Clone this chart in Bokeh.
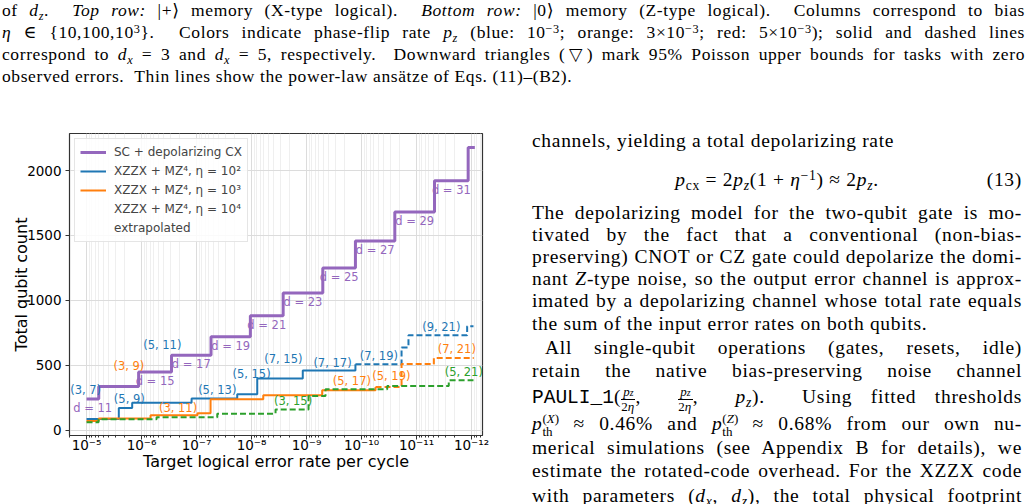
from bokeh.plotting import figure
from bokeh.models import (Range1d, FixedTicker, CustomJSTickFormatter, Legend, LegendItem, Div)
from bokeh.layouts import column, row
from bokeh.embed import file_html
from bokeh.resources import INLINE
from bokeh.core.properties import value

# ---------------- data ----------------
# Surface code + depolarizing CX: step starts (target logical error rate) and qubit counts
sc_rate = [1e-5, 6.0e-6, 1.13e-6, 2.85e-7, 5.45e-8, 1.05e-8, 2.66e-9, 5.06e-10,
           1.29e-10, 2.48e-11, 4.71e-12, 1.15e-12, 8.7e-13]
sc_qubits = [241, 337, 449, 577, 721, 881, 1057, 1249, 1457, 1681, 1921, 2177, 2177]
sc_dist = [11, 13, 15, 17, 19, 21, 23, 25, 27, 29, 31, 33]
sc_labeled = [11, 15, 17, 19, 21, 23, 25, 27, 29, 31]

# XZZX + MZ^4, eta = 1e2
b_rate = [1e-5, 2.59e-6, 1.48e-6, 1.23e-7, 1.82e-8, 7.87e-9, 1.17e-9, 1.29e-10]
b_qubits = [87, 172, 213, 244, 277, 398, 461, 508]
b_ext_rate = [1.29e-10, 1.87e-11, 1.40e-11, 1.20e-12, 9.2e-13]
b_ext_qubits = [508, 638, 731, 802, 802]

# XZZX + MZ^4, eta = 1e3
o_rate = [1e-5, 6.0e-6, 6.86e-7, 9.6e-8, 5.56e-8, 6.12e-9, 5.19e-10, 5.56e-11]
o_qubits = [72, 90, 115, 131, 239, 270, 308, 334]
o_ext_rate = [5.56e-11, 1.87e-11, 4.84e-12, 9.1e-13]
o_ext_qubits = [334, 510, 556, 556]

# XZZX + MZ^4, eta = 1e4 (extrapolated)
g_ext_rate = [1e-5, 6.05e-6, 5.33e-7, 4.2e-8, 3.66e-9, 9.2e-10, 4.52e-10, 3.41e-11, 2.59e-12, 9.2e-13]
g_ext_qubits = [62, 85, 100, 128, 161, 265, 316, 342, 385, 385]

# (dx, dz) annotations
b_lab = ["(3, 7)", "(5, 9)", "(5, 11)", "(5, 13)", "(5, 15)", "(7, 15)", "(7, 17)", "(7, 19)", "(9, 21)"]
b_lab_x = [1.04e-5, 1.67e-6, 4.2e-7, 4.2e-8, 1.0e-8, 2.64e-9, 3.37e-10, 4.84e-11, 3.54e-12]
b_lab_y = [311, 239, 655, 311, 432, 552, 519, 573, 796]
o_lab = ["(3, 9)", "(3, 11)", "(5, 17)", "(5, 19)", "(7, 21)"]
o_lab_x = [1.70e-6, 2.17e-7, 1.5e-10, 2.87e-11, 1.85e-12]
o_lab_y = [496, 174, 380, 419, 625]
g_lab = ["(3, 15)", "(5, 21)"]
g_lab_x = [1.76e-9, 1.38e-12]
g_lab_y = [226, 450]

x_tick_values = [1e-5, 1e-6, 1e-7, 1e-8, 1e-9, 1e-10, 1e-11, 1e-12]
x_tick_labels = ["10\u207b\u2075", "10\u207b\u2076", "10\u207b\u2077", "10\u207b\u2078",
                 "10\u207b\u2079", "10\u207b\u00b9\u2070", "10\u207b\u00b9\u00b9", "10\u207b\u00b9\u00b2"]
y_tick_values = [0, 500, 1000, 1500, 2000]

PURPLE, BLUE, ORANGE, GREEN = "#9467bd", "#1f77b4", "#ff7f0e", "#2ca02c"
FONT = "DejaVu Sans"

# ---------------- chart ----------------
p = figure(width=520, height=394, x_axis_type="log",
           x_range=Range1d(10 ** -4.69, 10 ** -12.2), y_range=Range1d(-40, 2285),
           output_backend="svg", toolbar_location=None,
           min_border_left=69, min_border_right=38, min_border_top=23, min_border_bottom=69)
p.background_fill_color = "white"
p.border_fill_color = "white"
p.outline_line_color = "#333333"
p.outline_line_width = 1.2

minor = [m * 10.0 ** e for e in range(-13, -4) for m in range(2, 10)]
p.xaxis.ticker = FixedTicker(ticks=x_tick_values, minor_ticks=minor)
p.xaxis.formatter = CustomJSTickFormatter(args=dict(vals=x_tick_values, labs=x_tick_labels), code="""
    let best = 0, bd = 1e9;
    for (let i = 0; i < vals.length; i++) {
        const d = Math.abs(Math.log10(tick) - Math.log10(vals[i]));
        if (d < bd) { bd = d; best = i; }
    }
    return labs[best];
""")
p.yaxis.ticker = FixedTicker(ticks=y_tick_values)
for ax in (p.xaxis[0], p.yaxis[0]):
    ax.axis_line_color = "#333333"
    ax.major_tick_line_color = "#333333"
    ax.minor_tick_line_color = "#333333"
    ax.major_tick_in = 0
    ax.major_tick_out = 4
    ax.minor_tick_in = 0
    ax.minor_tick_out = 2
    ax.major_label_text_font = FONT
    ax.major_label_text_font_size = "13.5px"
    ax.major_label_text_color = "black"
    ax.axis_label_text_font = FONT
    ax.axis_label_text_font_size = "16px"
    ax.axis_label_text_font_style = "normal"
    ax.axis_label_text_color = "black"
p.yaxis.minor_tick_line_color = None
p.xaxis.axis_label = "Target logical error rate per cycle"
p.yaxis.axis_label = "Total qubit count"
p.xaxis.axis_label_standoff = -4
p.yaxis.axis_label_standoff = -7
p.xaxis.major_label_standoff = -3
p.yaxis.major_label_standoff = 4

p.xgrid.grid_line_color = "#dcdcdc"
p.xgrid.minor_grid_line_color = "#efefef"
p.ygrid.grid_line_color = "#dcdcdc"

r_sc = p.step(sc_rate, sc_qubits, mode="after", line_color=PURPLE, line_width=3)
r_b = p.step(b_rate, b_qubits, mode="after", line_color=BLUE, line_width=2)
p.step(b_ext_rate, b_ext_qubits, mode="after", line_color=BLUE, line_width=2, line_dash="6 3")
r_o = p.step(o_rate, o_qubits, mode="after", line_color=ORANGE, line_width=2)
p.step(o_ext_rate, o_ext_qubits, mode="after", line_color=ORANGE, line_width=2, line_dash="6 3")
p.step(g_ext_rate, g_ext_qubits, mode="after", line_color=GREEN, line_width=2, line_dash="6 3")
r_g = p.line([], [], line_color=GREEN, line_width=2.5)
r_ext = p.line([], [], line_color="gray", line_width=2, line_dash="4 2")

# surface-code distance labels, centred under each labelled step
lx, ly, lt = [], [], []
for i, d in enumerate(sc_dist):
    if d in sc_labeled:
        lx.append((sc_rate[i] * sc_rate[i + 1]) ** 0.5)
        ly.append(sc_qubits[i])
        lt.append(f"d = {d}")
p.text(lx, ly, text=lt, text_color=PURPLE, text_font=value(FONT), text_font_size="11.5px",
       text_align="center", text_baseline="middle", y_offset=9)

for labs, xs, ys, col in ((b_lab, b_lab_x, b_lab_y, BLUE), (o_lab, o_lab_x, o_lab_y, ORANGE),
                          (g_lab, g_lab_x, g_lab_y, GREEN)):
    p.text(xs, ys, text=labs, text_color=col, text_font=value(FONT), text_font_size="11.5px",
           text_align="center", text_baseline="middle")

legend = Legend(items=[
    LegendItem(label="SC + depolarizing CX", renderers=[r_sc]),
    LegendItem(label="XZZX + MZ\u2074, \u03b7 = 10\u00b2", renderers=[r_b]),
    LegendItem(label="XZZX + MZ\u2074, \u03b7 = 10\u00b3", renderers=[r_o]),
    LegendItem(label="XZZX + MZ\u2074, \u03b7 = 10\u2074", renderers=[r_g]),
    LegendItem(label="extrapolated", renderers=[r_ext]),
], location="top_left")
legend.label_text_font = FONT
legend.label_text_font_size = "12px"
legend.label_height = 16
legend.glyph_height = 16
legend.glyph_width = 26
legend.label_standoff = 8
legend.spacing = 3
legend.padding = 5
legend.margin = 5
legend.border_line_color = "#cccccc"
legend.background_fill_alpha = 0.85
p.add_layout(legend)

# ---------------- text ----------------
SERIF = "'Liberation Serif','DejaVu Serif',serif"


def I(s):
    return f"<i>{s}</i>"


def sub(s):
    return f'<span style="font-size:70%;position:relative;top:0.3em;line-height:0">{s}</span>'


def sup(s):
    return f'<span style="font-size:70%;position:relative;top:-0.45em;line-height:0">{s}</span>'


def just(s, top, left=0, width=1023, last=True, indent=0):
    al = "justify" if last else "left"
    return (f'<div style="position:absolute;top:{top}px;left:{left}px;width:{width}px;height:22px;'
            f'white-space:nowrap;text-indent:{indent}px;text-align:justify;text-align-last:{al}">{s}</div>')


cap_lines = [
    f"of {I('d')}{sub(I('z'))}. &nbsp;{I('Top row:')} |+\u27e9 memory (X-type logical). &nbsp;{I('Bottom row:')} |0\u27e9 memory (Z-type logical). &nbsp;Columns correspond to bias",
    f"{I('\u03b7')} \u2208 {{10,100,10{sup('3')}}}. &nbsp;Colors indicate phase-flip rate {I('p')}{sub(I('z'))} (blue: 10{sup('\u22123')}; orange: 3\u00d710{sup('\u22123')}; red: 5\u00d710{sup('\u22123')}); solid and dashed lines",
    f"correspond to {I('d')}{sub(I('x'))} = 3 and {I('d')}{sub(I('x'))} = 5, respectively. &nbsp;Downward triangles (\u25bd) mark 95% Poisson upper bounds for tasks with zero",
    "observed errors. &nbsp;Thin lines show the power-law ans\u00e4tze of Eqs. (11)\u2013(B2).",
]
cap_tops = [-1, 21, 43, 65]
cap_html = "".join(just(s, t, 2, 1023, i < 3) for i, (s, t) in enumerate(zip(cap_lines, cap_tops)))
caption = Div(text=f'<div style="position:relative;width:1029px;height:110px;font-family:{SERIF};'
                   f'font-size:17.5px;letter-spacing:0.6px;line-height:22px;color:#000">{cap_html}</div>',
              width=1029, height=110, margin=0)


def frac():
    return ('<span style="display:inline-block;vertical-align:-0.6em;text-align:center;font-size:13px;line-height:13px;letter-spacing:0">'
            '<span style="display:block;border-bottom:1px solid #000;padding:0 2px"><i>p</i><span style="font-size:75%"><i>z</i></span></span>'
            '<span style="display:block">2<i>\u03b7</i></span></span>')


def pth(s):
    return ('<i>p</i><span style="display:inline-block;vertical-align:-0.45em;font-size:13px;line-height:13px;letter-spacing:0">'
            f'<span style="display:block">({I(s)})</span><span style="display:block">th</span></span>')


pz = f"{I('p')}{sub(I('z'))}"
right_lines = [
    ("channels, yielding a total depolarizing rate", 20, False, 0),
    ("The depolarizing model for the two-qubit gate is mo-", 92, True, 0),
    ("tivated by the fact that a conventional (non-bias-", 114, True, 0),
    ("preserving) CNOT or CZ gate could depolarize the domi-", 136, True, 0),
    (f"nant {I('Z')}-type noise, so the output error channel is approx-", 158, True, 0),
    ("imated by a depolarizing channel whose total rate equals", 180, True, 0),
    ("the sum of the input error rates on both qubits.", 203, False, 0),
    ("All single-qubit operations (gates, resets, idle)", 227, True, 13),
    ("retain the native bias-preserving noise channel", 250, True, 0),
    (f'<span style="font-family:\'Liberation Mono\',monospace;letter-spacing:0">PAULI_1</span>({frac()}, &nbsp;{frac()}, &nbsp;{pz}). &nbsp;Using fitted thresholds', 275, True, 0),
    (f"{pth('X')} \u2248 0.46% and {pth('Z')} \u2248 0.68% from our own nu-", 302, True, 0),
    ("merical simulations (see Appendix B for details), we", 327, True, 0),
    ("estimate the rotated-code overhead. For the XZZX code", 350, True, 0),
    (f"with parameters ({I('d')}{sub(I('x'))}, {I('d')}{sub(I('z'))}), the total physical footprint", 375, True, 0),
]
rh = "".join(just(s, t, 12, 490, l, ind) for s, t, l, ind in right_lines)
eq = (f'<div style="position:absolute;top:59px;left:12px;width:490px;height:22px;text-align:center">'
      f'{I("p")}{sub("cx")} = 2{pz}(1 + {I("\u03b7")}{sup("\u22121")}) \u2248 2{pz}.</div>'
      f'<div style="position:absolute;top:59px;left:12px;width:490px;height:22px;text-align:right">(13)</div>')
right = Div(text=f'<div style="position:relative;width:509px;height:394px;overflow:hidden;font-family:{SERIF};'
                 f'font-size:19.5px;letter-spacing:0.7px;line-height:22px;color:#000">{rh}{eq}</div>',
            width=509, height=394, margin=0)

layout = column(caption, row(p, right, spacing=0), spacing=0)
open("out.html", "w").write(file_html(layout, INLINE))
